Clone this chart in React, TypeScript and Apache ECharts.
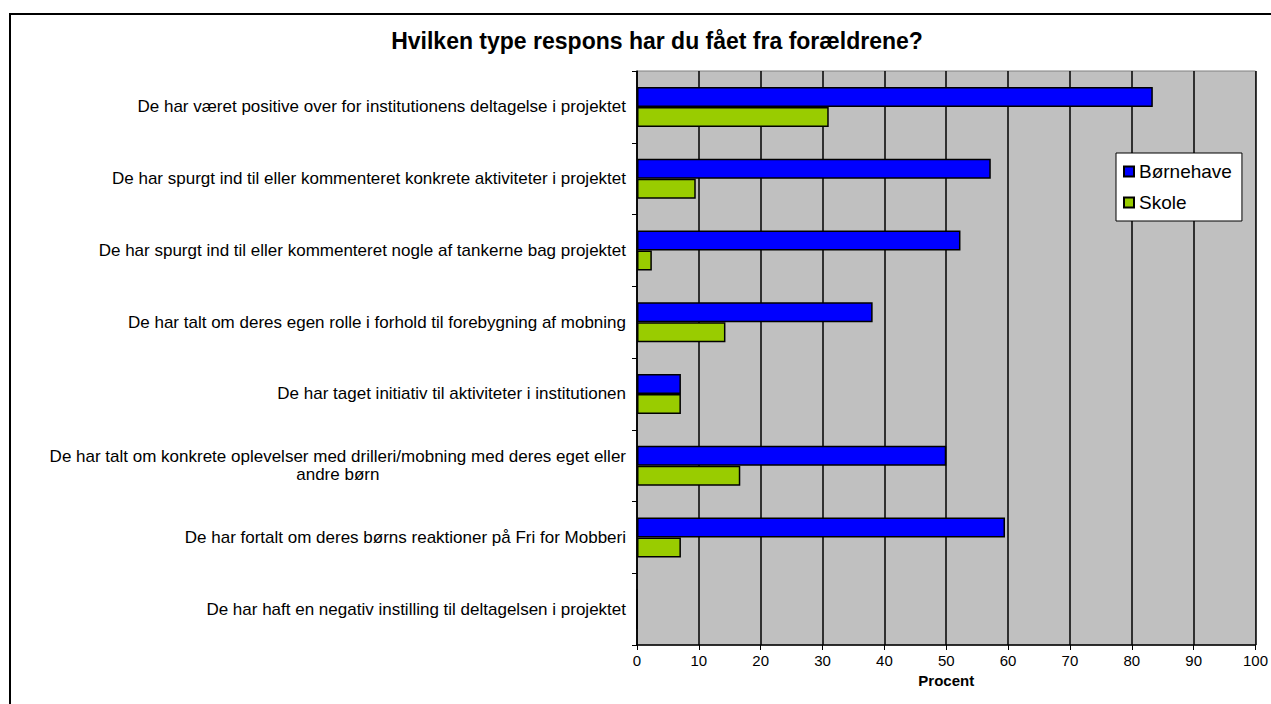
import React, { useEffect, useRef } from "react";
import * as echarts from "echarts";

const categories = [
  "De har været positive over for institutionens deltagelse i projektet",
  "De har spurgt ind til eller kommenteret konkrete aktiviteter i projektet",
  "De har spurgt ind til eller kommenteret nogle af tankerne bag projektet",
  "De har talt om deres egen rolle i forhold til forebygning af mobning",
  "De har taget initiativ til aktiviteter i institutionen",
  "De har talt om konkrete oplevelser med drilleri/mobning med deres eget eller\nandre børn",
  "De har fortalt om deres børns reaktioner på Fri for Mobberi",
  "De har haft en negativ instilling til deltagelsen i projektet",
];
const boernehave = [83.4, 57.2, 52.3, 38.1, 7.1, 50.0, 59.5, 0];
const skole = [31.0, 9.5, 2.4, 14.3, 7.1, 16.7, 7.1, 0];
const seriesNames = ["Børnehave", "Skole"];
const titleText = "Hvilken type respons har du fået fra forældrene?";
const xAxisName = "Procent";

const FONT = "'Liberation Sans', Arial, sans-serif";

export default function App() {
  const ref = useRef<HTMLDivElement>(null);
  useEffect(() => {
    if (!ref.current) return;
    const chart = echarts.init(ref.current, null, { renderer: "svg" });
    const labelStyle = { fontFamily: FONT, fontSize: 17, color: "#000", lineHeight: 18 };
    chart.setOption({
      animation: false,
      backgroundColor: "#fff",
      textStyle: { fontFamily: FONT },
      title: {
        text: titleText,
        left: 652,
        textAlign: "center",
        top: 24,
        textStyle: { fontFamily: FONT, fontSize: 23, fontWeight: "bold", color: "#000" },
      },
      graphic: [
        {
          type: "rect",
          shape: { x: 10, y: 14, width: 1400, height: 900 },
          style: { fill: "none", stroke: "#000", lineWidth: 2 },
          silent: true,
          z: 100,
        },
      ],
      legend: {
        orient: "vertical",
        left: 1116,
        top: 153,
        padding: [9, 10, 9, 7],
        itemGap: 12,
        itemWidth: 10,
        itemHeight: 10,
        icon: "rect",
        backgroundColor: "#fff",
        borderColor: "#000",
        borderWidth: 1,
        textStyle: { fontFamily: FONT, fontSize: 19, color: "#000" },
        data: seriesNames,
      },
      grid: {
        left: 637,
        right: 11,
        top: 71,
        bottom: 59,
        show: true,
        backgroundColor: "#c0c0c0",
        borderColor: "#808080",
        borderWidth: 1,
        containLabel: false,
      },
      xAxis: {
        type: "value",
        min: 0,
        max: 100,
        interval: 10,
        name: xAxisName,
        nameLocation: "middle",
        nameGap: 23,
        nameTextStyle: { fontFamily: FONT, fontSize: 15, fontWeight: "bold", color: "#000" },
        axisLine: { show: true, lineStyle: { color: "#000", width: 1.5 } },
        axisTick: { show: true, length: 5, lineStyle: { color: "#000" } },
        axisLabel: { margin: 8, fontFamily: FONT, fontSize: 15, color: "#000" },
        splitLine: { show: true, lineStyle: { color: "#000", width: 1.5 } },
      },
      yAxis: {
        type: "category",
        inverse: true,
        data: categories,
        axisLine: { show: true, lineStyle: { color: "#000", width: 1.5 } },
        axisTick: { show: true, length: 5, lineStyle: { color: "#000" } },
        axisLabel: {
          margin: 11,
          align: "right",
          ...labelStyle,
          formatter: (v: string) => {
            const lines = v.split("\n");
            if (lines.length === 1) return `{a|${v}}`;
            return `{a|${lines[0]}}\n{c|${lines[1]}}`;
          },
          rich: {
            a: { ...labelStyle, align: "right" },
            c: { ...labelStyle, align: "center" },
          },
        },
        splitLine: { show: false },
      },
      series: [
        {
          name: seriesNames[0],
          type: "bar",
          data: boernehave,
          barWidth: 20,
          barGap: "0%",
          itemStyle: { color: "#0000ff", borderColor: "#000", borderWidth: 1.5 },
        },
        {
          name: seriesNames[1],
          type: "bar",
          data: skole,
          barWidth: 20,
          barGap: "0%",
          itemStyle: { color: "#99cc00", borderColor: "#000", borderWidth: 1.5 },
        },
      ],
    });
    return () => chart.dispose();
  }, []);
  return (
    <div
      ref={ref}
      style={{ position: "fixed", left: 0, top: 0, width: 1271, height: 704 }}
    />
  );
}
